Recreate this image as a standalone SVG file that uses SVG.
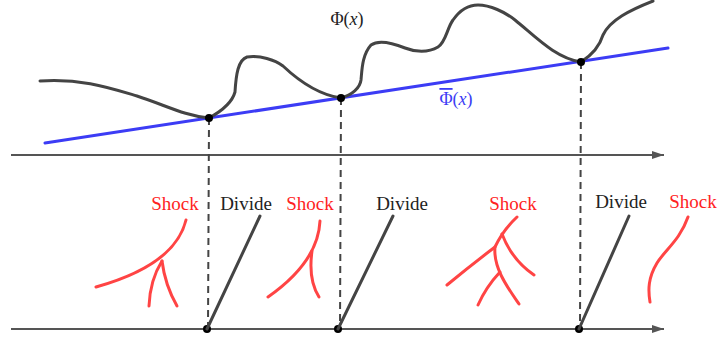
<svg xmlns="http://www.w3.org/2000/svg" width="718" height="342" viewBox="0 0 718 342">
<defs>
<style>
.axis{stroke:#555;stroke-width:2;fill:none}
.dash{stroke:#444;stroke-width:2;stroke-dasharray:7,5;fill:none}
.phi{stroke:#444;stroke-width:3;fill:none;stroke-linecap:round}
.env{stroke:#3c3cf5;stroke-width:3;fill:none;stroke-linecap:round}
.div{stroke:#444;stroke-width:3;fill:none;stroke-linecap:round}
.shock{stroke:#ff4444;stroke-width:3;fill:none;stroke-linecap:round;stroke-linejoin:round}
.dot{fill:#000}
text{font-family:"Liberation Serif","DejaVu Serif",serif;font-size:19px}
.lblS{fill:#ff2222}
.lblD{fill:#222}
</style>
<marker id="arr" viewBox="0 0 12 8" refX="12" refY="4" markerWidth="12" markerHeight="8" markerUnits="userSpaceOnUse" orient="auto">
<path d="M0,0 L12,4 L0,8 Z" fill="#555"/>
</marker>
</defs>
<rect width="718" height="342" fill="#fff"/>

<g id="connectors">
<line class="axis" x1="11" y1="155" x2="664" y2="155" marker-end="url(#arr)"/>
<line class="axis" x1="11" y1="329" x2="664" y2="329" marker-end="url(#arr)"/>
<line class="dash" x1="209" y1="118" x2="208" y2="329"/>
<line class="dash" x1="341" y1="98" x2="340" y2="329"/>
<line class="dash" x1="581" y1="62" x2="580" y2="329"/>
</g>

<g id="envelope">
<line class="env" x1="45" y1="143" x2="668" y2="48"/>
<text x="456" y="105" text-anchor="middle" fill="#3c3cf5" style="font-size:18px"><tspan text-decoration="overline">Φ</tspan>(<tspan font-style="italic">x</tspan>)</text>
</g>

<g id="phi-curve">
<path class="phi" d="M40,81 C80,78 110,88 137,96 C165,105 185,116 209,118 C220,112 232,103 235,92 C236,75 238,60 247,57 C260,55 275,60 283,66 C300,82 320,95 341,98 C352,95 360,88 361,80 C362,70 362,55 371,45 C378,40 390,42 405,48 C415,52 428,53 438,47 C446,42 447,28 453,20 C460,10 468,5 478,5 C490,5 505,12 515,20 C535,36 555,58 581,62 C592,55 600,45 603,35 C610,20 630,10 653,1"/>
<text x="347" y="25" text-anchor="middle" fill="#222" style="font-size:18px">Φ(<tspan font-style="italic">x</tspan>)</text>
</g>

<g id="point1">
<circle class="dot" cx="209" cy="118" r="4"/>
<circle class="dot" cx="207" cy="329" r="4"/>
</g>
<g id="point2">
<circle class="dot" cx="341" cy="98" r="4"/>
<circle class="dot" cx="338" cy="329" r="4"/>
</g>
<g id="point3">
<circle class="dot" cx="581" cy="62" r="4"/>
<circle class="dot" cx="579" cy="329" r="4"/>
</g>

<g id="divide1">
<line class="div" x1="207" y1="329" x2="260" y2="216"/>
<text class="lblD" x="246" y="210" text-anchor="middle">Divide</text>
</g>
<g id="divide2">
<line class="div" x1="338" y1="329" x2="393" y2="216"/>
<text class="lblD" x="402" y="210" text-anchor="middle">Divide</text>
</g>
<g id="divide3">
<line class="div" x1="579" y1="329" x2="629" y2="216"/>
<text class="lblD" x="621" y="208" text-anchor="middle">Divide</text>
</g>

<g id="shock1">
<path class="shock" d="M186,220 Q175,265 96,287"/>
<path class="shock" d="M162,261 Q150,280 149,306"/>
<path class="shock" d="M162,261 Q165,285 177,306"/>
<text class="lblS" x="175" y="210" text-anchor="middle">Shock</text>
</g>
<g id="shock2">
<path class="shock" d="M320,221 Q318,262 268,297"/>
<path class="shock" d="M312,251 Q308,280 319,297"/>
<text class="lblS" x="310" y="210" text-anchor="middle">Shock</text>
</g>
<g id="shock3">
<path class="shock" d="M517,217 Q503,230 495,247 Q470,266 447,285"/>
<path class="shock" d="M502,234 Q512,260 534,275"/>
<path class="shock" d="M495,247 C493,268 508,288 519,304"/>
<path class="shock" d="M500,272 Q486,287 478,305"/>
<text class="lblS" x="513" y="210" text-anchor="middle">Shock</text>
</g>
<g id="shock4">
<path class="shock" d="M688,217 C680,240 665,250 657,263 C648,278 648,290 650,302"/>
<text class="lblS" x="693" y="208" text-anchor="middle">Shock</text>
</g>
</svg>
